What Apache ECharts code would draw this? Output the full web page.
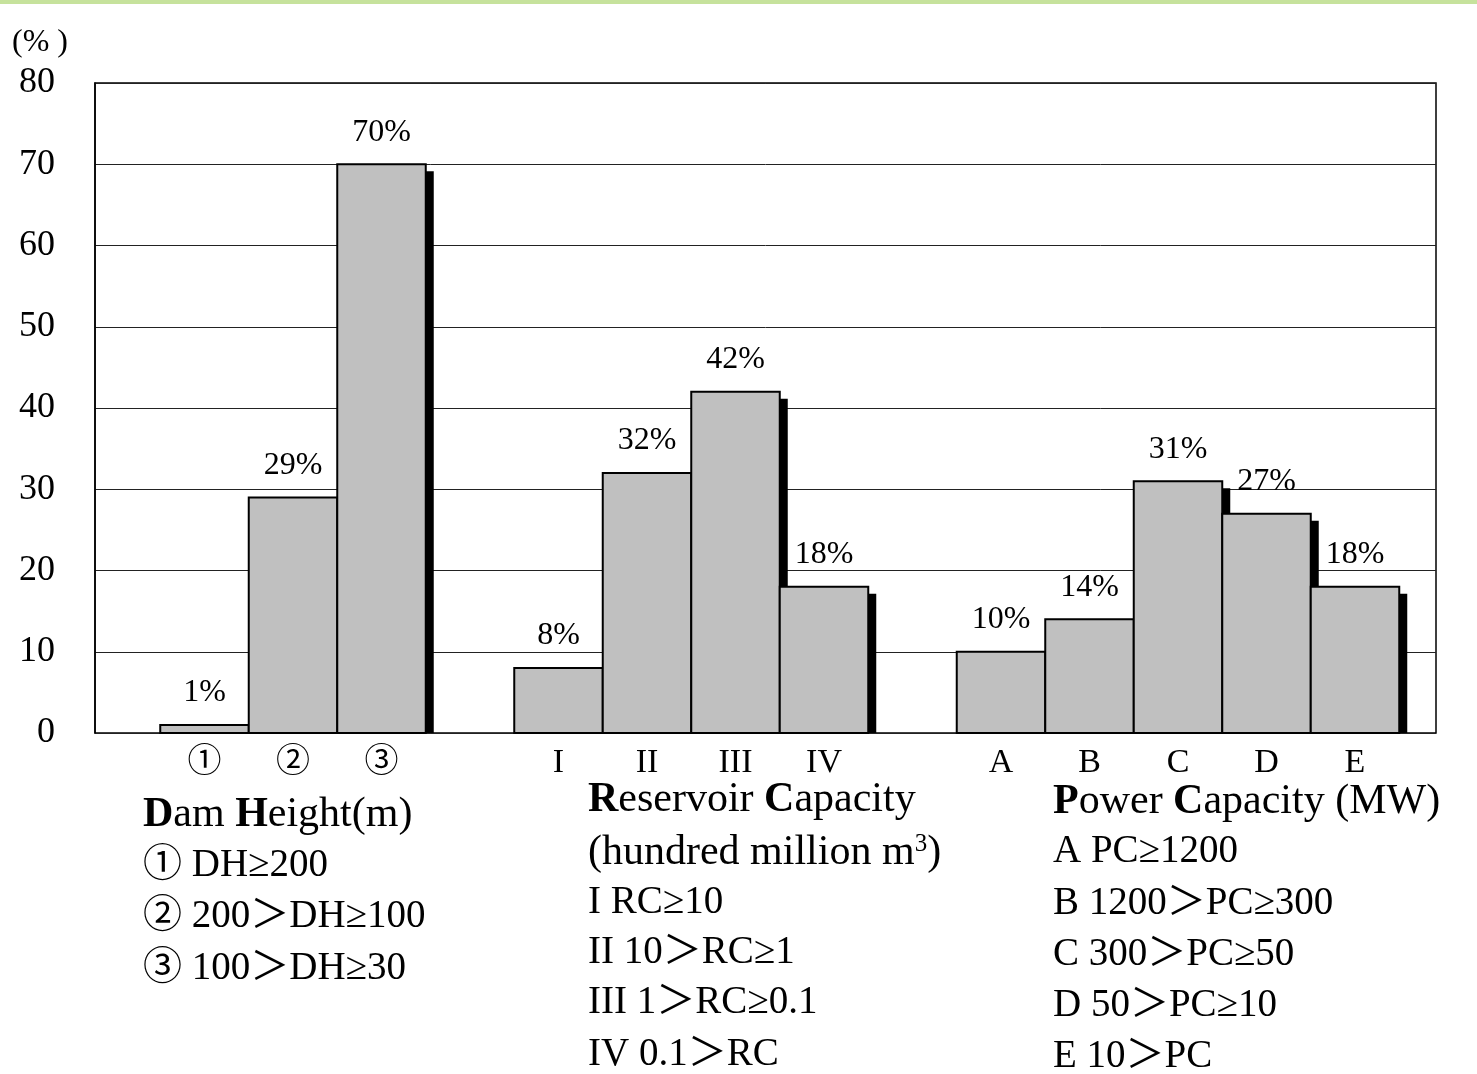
<!DOCTYPE html>
<html>
<head>
<meta charset="utf-8">
<script src="https://cdn.jsdelivr.net/npm/echarts@6/dist/echarts.min.js"></script>
<style>
html,body{margin:0;padding:0;background:#fff;}
#chart{width:1477px;height:1074px;}
</style>
</head>
<body>
<div id="chart"></div>
<script>
// ---- data ----
var heightCats = ['①', '②', '③'];
var heightVals = [1, 29, 70];
var reservoirCats = ['I', 'II', 'III', 'IV'];
var reservoirVals = [8, 32, 42, 18];
var powerCats = ['A', 'B', 'C', 'D', 'E'];
var powerVals = [10, 14, 31, 27, 18];
var yTicks = [0, 10, 20, 30, 40, 50, 60, 70, 80];

var heightNotes = ['{b|D}am {b|H}eight(m)', '① DH≥200', '② 200＞DH≥100', '③ 100＞DH≥30'];
var reservoirNotes = ['{b|R}eservoir {b|C}apacity', '(hundred million m{sup|3})', 'I RC≥10', 'II 10＞RC≥1', 'III 1＞RC≥0.1', 'IV 0.1＞RC'];
var powerNotes = ['{b|P}ower {b|C}apacity (MW)', 'A PC≥1200', 'B 1200＞PC≥300', 'C 300＞PC≥50', 'D 50＞PC≥10', 'E 10＞PC'];

// combined category axis with blank gap slots
var cats = [].concat(heightCats, [''], reservoirCats, [''], powerCats);
var vals = [].concat(heightVals, [null], reservoirVals, [null], powerVals);
var barData = [];
vals.forEach(function (v, i) { if (v != null) barData.push([i, v]); });

var FONT = '"Liberation Serif", "DejaVu Serif", "Noto Sans CJK JP", serif';

function noteBlock(lines, x, centers, headSize, itemSize, headCount) {
  return lines.map(function (t, i) {
    var size = i < headCount ? headSize : itemSize;
    return {
      type: 'text',
      x: x,
      y: centers[i],
      style: {
        text: t,
        font: size + 'px ' + FONT,
        fill: '#000',
        verticalAlign: 'middle',
        rich: {
          b: { fontWeight: 'bold', fontSize: size, fontFamily: FONT, fill: '#000' },
          sup: { fontSize: Math.round(size * 0.6), fontFamily: FONT, verticalAlign: 'top', padding: [0, 0, 16, 0], fill: '#000' }
        }
      }
    };
  });
}

function renderBar(params, api) {
  var idx = api.value(0), v = api.value(1);
  var top = api.coord([idx, v]);
  var base = api.coord([idx, 0]);
  var w = api.size([1, 0])[0];
  var x0 = top[0] - w / 2;
  var h = base[1] - top[1];
  return {
    type: 'group',
    children: [
      { type: 'rect', shape: { x: x0 + 8, y: top[1] + 7, width: w, height: Math.max(0, h - 7) }, style: { fill: '#000' } },
      { type: 'rect', shape: { x: x0, y: top[1], width: w, height: h }, style: { fill: '#c0c0c0', stroke: '#000', lineWidth: 2 } },
      { type: 'text', x: top[0], y: top[1] - 16, style: { text: v + '%', font: '32px ' + FONT, fill: '#000', align: 'center', verticalAlign: 'bottom' } }
    ]
  };
}

var chart = echarts.init(document.getElementById('chart'));
var option = {
  backgroundColor: '#fff',
  animation: false,
  grid: [
    { left: 95, right: 41, top: 83, bottom: 341, show: true, borderColor: '#000', borderWidth: 1.5, backgroundColor: 'transparent' },
    { left: 160.25, right: 77.75, top: 83, bottom: 341 }
  ],
  xAxis: [
    { gridIndex: 0, type: 'value', show: false, min: 0, max: 1 },
    {
      gridIndex: 1, type: 'category', data: cats,
      axisLine: { show: false }, axisTick: { show: false },
      axisLabel: { interval: 0, margin: 13, color: '#000', fontSize: 34, fontFamily: FONT }
    }
  ],
  yAxis: [
    {
      gridIndex: 0, type: 'value', min: 0, max: 80, interval: 10,
      axisLine: { show: true, lineStyle: { color: '#000', width: 1.5 } },
      axisTick: { show: false },
      axisLabel: { margin: 40, color: '#000', fontSize: 36, fontFamily: FONT,
        formatter: function (v) { return yTicks.indexOf(v) >= 0 ? String(v) : ''; } },
      splitLine: { show: true, lineStyle: { color: '#222', width: 1 } }
    },
    { gridIndex: 1, type: 'value', min: 0, max: 80, interval: 10, show: false }
  ],
  graphic: [
    { type: 'rect', shape: { x: 0, y: 0, width: 1477, height: 4 }, style: { fill: '#c6e29c' } },
    { type: 'text', x: 12, y: 43, style: { text: '(% )', font: '32px ' + FONT, fill: '#000', verticalAlign: 'middle' } }
  ].concat(
    noteBlock(heightNotes, 143, [815, 866, 917, 969], 42, 39, 1),
    noteBlock(reservoirNotes, 588, [800, 853, 903, 953, 1003, 1055], 42, 39, 2),
    noteBlock(powerNotes, 1053, [802, 852, 904, 955, 1006, 1057], 42, 39, 1)
  ),
  series: [{
    type: 'custom',
    xAxisIndex: 1, yAxisIndex: 1,
    data: barData,
    encode: { x: 0, y: 1 },
    renderItem: renderBar
  }]
};
chart.setOption(option);
</script>
</body>
</html>
